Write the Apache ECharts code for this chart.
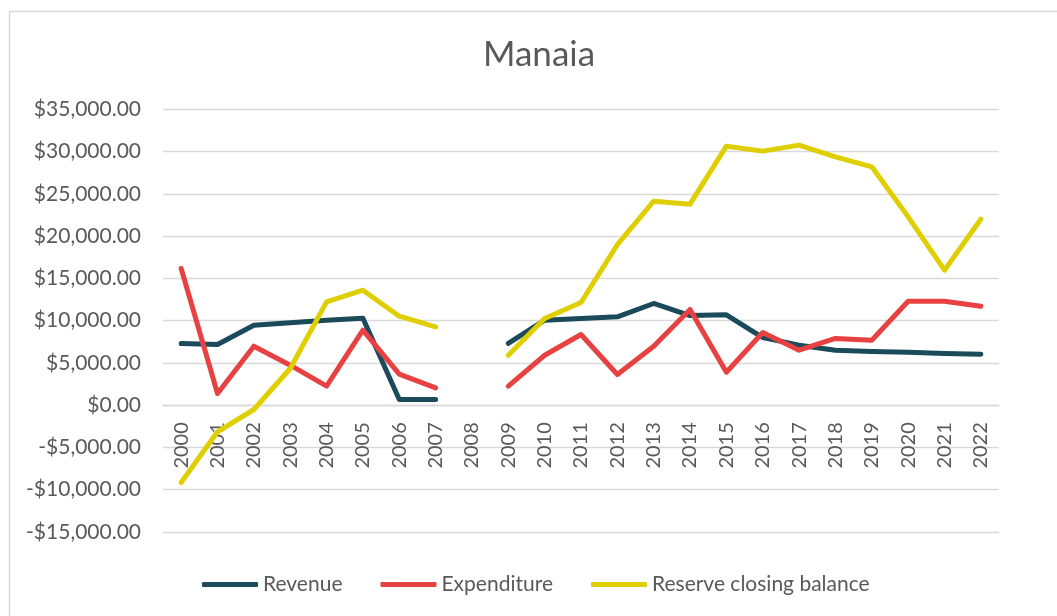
<!DOCTYPE html>
<html>
<head>
<meta charset="utf-8">
<title>Manaia</title>
<script src="https://cdn.jsdelivr.net/npm/echarts@6/dist/echarts.min.js"></script>
<style>
	html,body{margin:0;padding:0;background:#fff;}
	#chart{width:1057px;height:616px;}
</style>
</head>
<body>
<div id="chart"></div>
<script>
// years, 2008 has no data
var years=['2000','2001','2002','2003','2004','2005','2006','2007','2008','2009','2010','2011',
	'2012','2013','2014','2015','2016','2017','2018','2019','2020','2021','2022'];
var revenue=[7300,7180,9460,9740,10050,10290,670,670,null,7300,10050,10250,
	10450,12030,10600,10690,8000,7100,6500,6350,6270,6110,6030];
var expenditure=[16170,1380,6980,4730,2250,8870,3670,2050,null,2250,5910,8360,
	3630,6980,11320,3900,8600,6500,7890,7690,12300,12300,11710];
var reserve=[-9150,-3150,-510,4340,12220,13600,10530,9270,null,5910,10250,12150,
	19000,24130,23780,30640,30050,30760,29380,28200,22280,15970,22000];
var yTicks=[-15000,35000,5000]; // min, max, step

var font='Lato';
var grey='#595959';

// plot box
var gridTop=109.3, gridBottom=84, plotH=616-gridTop-gridBottom;
// pull the category axis up to the zero line
var zeroOffset=-plotH*(0-yTicks[0])/(yTicks[1]-yTicks[0]);

function money(v){
	var s=Math.abs(v).toFixed(2).replace(/\B(?=(\d{3})+(?!\d))/g,',');
	return (v<0?'-$':'$')+s;
}

function line(name,data,color){
	return {
		name:name,
		type:'line',
		data:data,
		symbol:'none',
		connectNulls:false,
		lineStyle:{width:5,color:color,cap:'round',join:'round'},
		itemStyle:{color:color}
	};
}

var chart=echarts.init(document.getElementById('chart'));
chart.setOption({
	animation:false,
	title:{
		text:'Manaia',
		left:478,
		top:32,
		textStyle:{fontFamily:font,fontSize:35,fontWeight:'normal',color:grey}
	},
	graphic:[{
		type:'rect',
		shape:{x:9.5,y:11.5,width:1100,height:700},
		style:{fill:'none',stroke:'#d9d9d9',lineWidth:1.5},
		silent:true
	}],
	legend:{
		left:197,
		top:569,
		itemWidth:56,
		itemHeight:5,
		itemGap:38,
		icon:'roundRect',
		textStyle:{fontFamily:font,fontSize:21,color:grey}
	},
	grid:{left:163,right:58,top:gridTop,bottom:gridBottom,containLabel:false},
	xAxis:{
		type:'category',
		data:years,
		boundaryGap:true,
		offset:zeroOffset,
		axisLine:{show:true,onZero:false,lineStyle:{color:'#d9d9d9',width:1.3}},
		axisTick:{show:false},
		axisLabel:{rotate:90,margin:17,fontFamily:font,fontSize:20,color:grey},
		splitLine:{show:false}
	},
	yAxis:{
		type:'value',
		min:yTicks[0],
		max:yTicks[1],
		interval:yTicks[2],
		axisLine:{show:false},
		axisTick:{show:false},
		axisLabel:{margin:22,fontFamily:font,fontSize:21,color:grey,formatter:money},
		splitLine:{lineStyle:{color:'#d9d9d9',width:1.3}}
	},
	series:[
		line('Revenue',revenue,'#1b4a5b'),
		line('Expenditure',expenditure,'#e84142'),
		line('Reserve closing balance',reserve,'#e0cf00')
	]
});
</script>
</body>
</html>
